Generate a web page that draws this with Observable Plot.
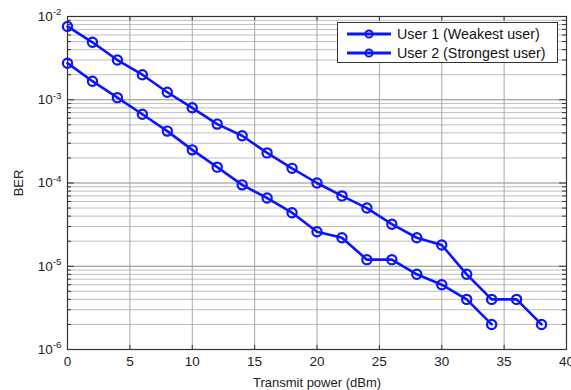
<!DOCTYPE html>
<html><head><meta charset="utf-8">
<script src="https://cdn.jsdelivr.net/npm/d3@7"></script>
<script src="https://cdn.jsdelivr.net/npm/@observablehq/plot@0.6"></script>
<style>
body{margin:0;background:#fff;font-family:"Liberation Sans",Arial,sans-serif}
#wrap{position:relative;width:571px;height:390px}
#legend{position:absolute;left:337px;top:22px;width:221px;height:41px;border:1px solid #333;background:#fff;box-sizing:border-box;font-size:14.3px;color:#111}
#legend .row{position:absolute;left:8px;height:18px;display:flex;align-items:center;white-space:nowrap}
#legend svg{margin-right:5px}
</style></head><body><div id="wrap"></div>
<script>
const power = [0,2,4,6,8,10,12,14,16,18,20,22,24,26,28,30,32,34,36,38];
const user1 = [7.6e-3,4.9e-3,3.0e-3,2.0e-3,1.23e-3,8e-4,5.1e-4,3.7e-4,2.3e-4,1.5e-4,1e-4,7e-5,5e-5,3.2e-5,2.2e-5,1.8e-5,8e-6,4e-6,4e-6,2e-6];
const user2 = [2.75e-3,1.67e-3,1.06e-3,6.7e-4,4.2e-4,2.5e-4,1.55e-4,9.5e-5,6.6e-5,4.4e-5,2.6e-5,2.2e-5,1.2e-5,1.2e-5,8e-6,6e-6,4e-6,2e-6];
const seriesNames = ["User 1 (Weakest user)", "User 2 (Strongest user)"];
const xTicks = [0,5,10,15,20,25,30,35,40];
const decades = [1e-6,1e-5,1e-4,1e-3,1e-2];
const xLabel = "Transmit power (dBm)";
const yLabel = "BER";

const data = [
  ...user1.map((v,i)=>({x:power[i], y:v, s:seriesNames[0]})),
  ...user2.map((v,i)=>({x:power[i], y:v, s:seriesNames[1]}))
];
const minors = [];
for (const d of decades.slice(0,-1)) for (let k=2;k<=9;k++) minors.push(d*k);

const blue = "#0a14ff";
const chart = Plot.plot({
  width: 571, height: 390,
  marginLeft: 67, marginRight: 5, marginTop: 16, marginBottom: 41,
  style: {fontFamily: '"Liberation Sans", Arial, sans-serif', fontSize: "13px", color: "#222", background: "#fff"},
  x: {domain: [0,40], ticks: xTicks, tickSize: 0, tickPadding: 7, label: xLabel, labelAnchor: "center", labelOffset: 37},
  y: {type: "log", domain: [1e-6,1e-2], ticks: decades, tickFormat: d => String(Math.round(Math.log10(d))), tickSize: 0, tickPadding: 6, label: yLabel, labelAnchor: "center", labelOffset: 54},
  marks: [
    Plot.ruleY(minors, {stroke: "#bdbdbd", strokeWidth: 1}),
    Plot.ruleY(decades, {stroke: "#8a8a8a", strokeWidth: 1}),
    Plot.ruleX(xTicks, {stroke: "#a8a8a8", strokeWidth: 1}),
    Plot.ruleY(minors, {x1: 0, x2: 0.32, stroke: "#333"}),
    Plot.ruleY(minors, {x1: 39.68, x2: 40, stroke: "#333"}),
    Plot.ruleY(decades, {x1: 0, x2: 0.55, stroke: "#333"}),
    Plot.ruleY(decades, {x1: 39.45, x2: 40, stroke: "#333"}),
    Plot.ruleX(xTicks, {y1: 1e-6, y2: 1.12e-6, stroke: "#333"}),
    Plot.ruleX(xTicks, {y1: 1e-2, y2: 0.0089, stroke: "#333"}),
    Plot.frame({stroke: "#333", strokeWidth: 1.2}),
    Plot.line(data, {x: "x", y: "y", z: "s", stroke: blue, strokeWidth: 2.6}),
    Plot.dot(data, {x: "x", y: "y", r: 4.6, stroke: blue, strokeWidth: 2.2, fill: "none"})
  ]
});
const wrap = document.getElementById("wrap");
wrap.appendChild(chart);
const svg = d3.select(chart);
// superscript exponent labels on the y axis
svg.selectAll('g[aria-label="y-axis tick label"] text').each(function(){
  const t = d3.select(this);
  const e = t.text();
  t.text("10");
  t.append("tspan").attr("dy","-0.55em").style("font-size","0.72em").text(e);
});
svg.selectAll('g[aria-label="y-axis tick label"] text, g[aria-label="x-axis tick label"] text').style("font-size", "13.5px").style("fill", "#222");
// axis labels without arrows
svg.selectAll('g[aria-label="x-axis label"] text').text(xLabel);
svg.selectAll('g[aria-label="y-axis label"] text').text(yLabel);
svg.selectAll('g[aria-label="x-axis label"] text, g[aria-label="y-axis label"] text').style("font-size", "13px").style("fill", "#222");
// legend
const leg = document.createElement("div"); leg.id = "legend";
seriesNames.forEach((n,i)=>{
  const row = document.createElement("div"); row.className="row"; row.style.top = (2+i*19)+"px";
  row.innerHTML = `<svg width="46" height="12"><line x1="1" x2="45" y1="6" y2="6" stroke="${blue}" stroke-width="2.8"/><circle cx="23" cy="6" r="3.6" stroke="${blue}" stroke-width="2" fill="none"/></svg><span>${n}</span>`;
  leg.appendChild(row);
});
wrap.appendChild(leg);
</script></body></html>
